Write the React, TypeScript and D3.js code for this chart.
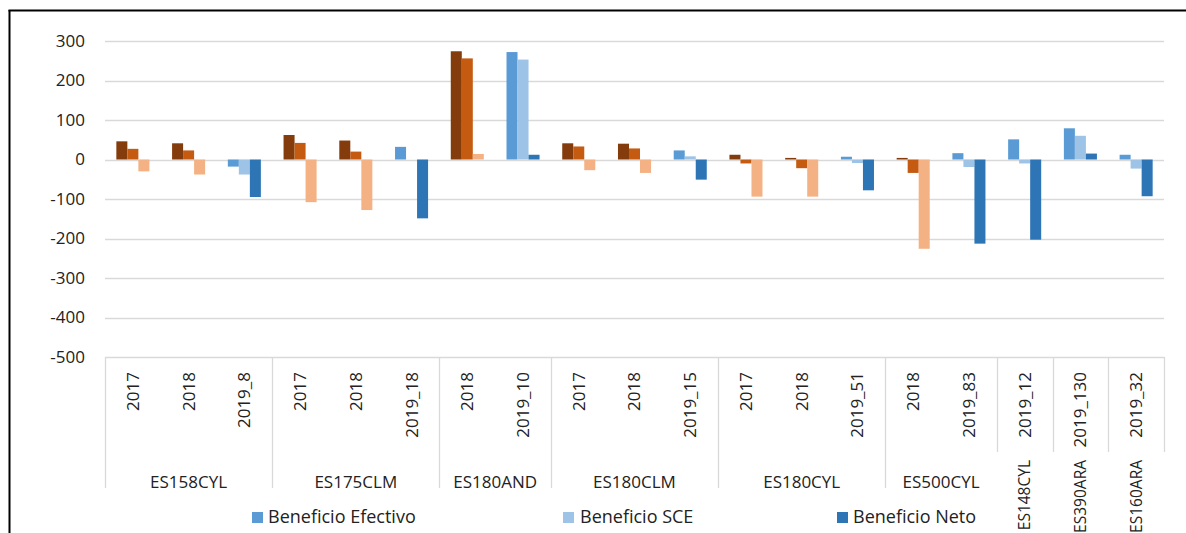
import React from "react";
import * as d3 from "d3";

const categoryLabels = ["2017","2018","2019_8","2017","2018","2019_18","2018","2019_10","2017","2018","2019_15","2017","2018","2019_51","2018","2019_83","2019_12","2019_130","2019_32"];
const categoryGroups = ["ES158CYL","ES158CYL","ES158CYL","ES175CLM","ES175CLM","ES175CLM","ES180AND","ES180AND","ES180CLM","ES180CLM","ES180CLM","ES180CYL","ES180CYL","ES180CYL","ES500CYL","ES500CYL","ES148CYL","ES390ARA","ES160ARA"];
const groupNames = ["ES158CYL","ES175CLM","ES180AND","ES180CLM","ES180CYL","ES500CYL","ES148CYL","ES390ARA","ES160ARA"];

const seriesNames = ["Beneficio Efectivo","Beneficio SCE","Beneficio Neto"];
const beneficioEfectivo = [46,41,-18,62,48,32,274,272,41,40,23,12,4,7,4,16,51,79,12];
const beneficioSCE = [27,23,-38,42,20,0,256,253,33,28,8,-10,-22,-9,-34,-19,-10,60,-23];
const beneficioNeto = [-30,-38,-95,-108,-128,-149,14,12,-27,-34,-51,-94,-94,-78,-226,-213,-203,15,-93];

const blueColors = ["#5B9BD5","#9DC3E6","#2E75B6"];
const brownColors = ["#843C0C","#C55A11","#F4B183"];
const yTicks = [300,200,100,0,-100,-200,-300,-400,-500];

const FONT = "'Open Sans', sans-serif";
const TXT = "#222";

export default function App() {
  const W = 1186, H = 533;
  const left = 105, right = 1164, top = 41, bottom = 357;
  const y = d3.scaleLinear().domain([-500, 300]).range([bottom, top]);
  const idx = categoryLabels.map((_, i) => i);
  const x0 = d3.scaleBand<number>().domain(idx).range([left, right]).paddingInner(0).paddingOuter(0);
  const x1 = d3.scaleBand<number>().domain([0, 1, 2]).range([0, x0.bandwidth()]).paddingInner(0).paddingOuter(1.03);
  const series = [beneficioEfectivo, beneficioSCE, beneficioNeto];
  const isBlue = (i: number) => categoryLabels[i].startsWith("2019");

  const spans = groupNames.map((g) => {
    const members = idx.filter((i) => categoryGroups[i] === g);
    return { name: g, first: members[0], last: members[members.length - 1], n: members.length };
  });

  const legend = [
    { name: seriesNames[0], color: blueColors[0], mx: 252, tx: 268 },
    { name: seriesNames[1], color: blueColors[1], mx: 563, tx: 580 },
    { name: seriesNames[2], color: blueColors[2], mx: 837, tx: 853 },
  ];

  return (
    <svg width={W} height={H} style={{ position: "absolute", left: 0, top: 0, background: "#fff" }} fontFamily={FONT}>
      <rect x={0} y={0} width={W} height={H} fill="#fff" />
      <line x1={9.5} y1={10} x2={9.5} y2={H} stroke="#000" strokeWidth={2} />
      <line x1={8.5} y1={10.5} x2={W} y2={10.5} stroke="#000" strokeWidth={2} />
      {yTicks.map((t) => (
        <g key={t}>
          <line x1={left} x2={right} y1={Math.round(y(t)) + 0.5} y2={Math.round(y(t)) + 0.5} stroke="#d9d9d9" strokeWidth={1.3} />
          <text x={85} y={y(t)} dy="0.35em" textAnchor="end" fontSize={17} fill={TXT}>{t}</text>
        </g>
      ))}
      {series.map((vals, s) => (
        <g key={s}>
          {vals.map((v, i) => {
            const bx = (x0(i) as number) + (x1(s) as number);
            const y0 = y(0), yv = y(v);
            return (
              <rect key={i} x={bx} width={x1.bandwidth()} y={Math.min(y0, yv)} height={Math.abs(yv - y0)}
                fill={isBlue(i) ? blueColors[s] : brownColors[s]} />
            );
          })}
        </g>
      ))}
      {spans.map((sp, k) => {
        const xl = x0(sp.first) as number;
        const prevSingle = k > 0 && spans[k - 1].n === 1;
        const yEnd = sp.n === 1 || prevSingle ? 452 : 488;
        return <line key={sp.name} x1={Math.round(xl) + 0.5} x2={Math.round(xl) + 0.5} y1={bottom} y2={yEnd} stroke="#d9d9d9" strokeWidth={1.3} />;
      })}
      <line x1={Math.round(right) + 0.5} x2={Math.round(right) + 0.5} y1={bottom} y2={452} stroke="#d9d9d9" strokeWidth={1.3} />
      {categoryLabels.map((c, i) => {
        const cx = (x0(i) as number) + x0.bandwidth() / 2;
        return (
          <text key={i} transform={`translate(${cx},372) rotate(-90)`} textAnchor="end" dy="0.35em" fontSize={17} fill={TXT}>{c}</text>
        );
      })}
      {spans.map((sp) => {
        const xa = x0(sp.first) as number;
        const xb = (x0(sp.last) as number) + x0.bandwidth();
        const cx = (xa + xb) / 2;
        if (sp.n === 1) {
          return <text key={sp.name} transform={`translate(${cx},460) rotate(-90)`} textAnchor="end" dy="0.35em" fontSize={15.5} fill={TXT}>{sp.name}</text>;
        }
        return <text key={sp.name} x={cx} y={482} dy="0.35em" textAnchor="middle" fontSize={17} fill={TXT}>{sp.name}</text>;
      })}
      {legend.map((l) => (
        <g key={l.name}>
          <rect x={l.mx} y={512} width={11} height={11} fill={l.color} />
          <text x={l.tx} y={517} dy="0.35em" fontSize={18} fill={TXT}>{l.name}</text>
        </g>
      ))}
    </svg>
  );
}
